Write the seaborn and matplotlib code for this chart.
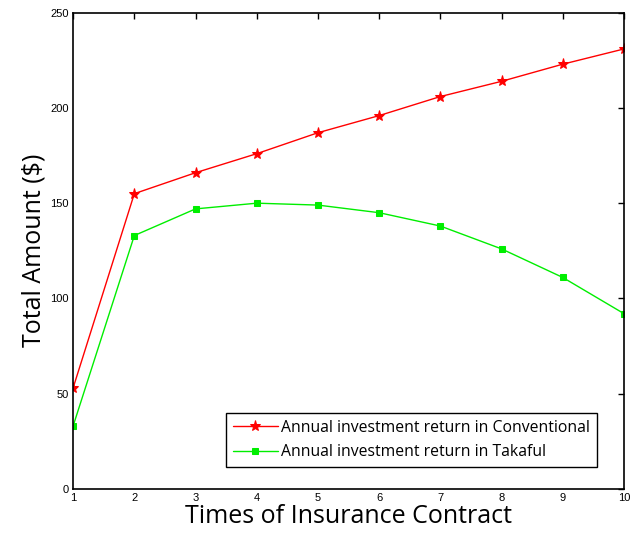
import pandas as pd
import numpy as np
import matplotlib
matplotlib.use("Agg")
import matplotlib.pyplot as plt
import seaborn as sns

# data
times = [1, 2, 3, 4, 5, 6, 7, 8, 9, 10]
conventional = [53, 155, 166, 176, 187, 196, 206, 214, 223, 231]
takaful = [33, 133, 147, 150, 149, 145, 138, 126, 111, 92]
label_conv = "Annual investment return in Conventional"
label_tak = "Annual investment return in Takaful"

df = pd.DataFrame({"Times": times, "Conventional": conventional, "Takaful": takaful})

sns.set_style("white")
plt.rcParams['font.family'] = ['Liberation Sans', 'DejaVu Sans']
plt.rcParams['text.color'] = 'black'
plt.rcParams['axes.labelcolor'] = 'black'
plt.rcParams['xtick.color'] = 'black'
plt.rcParams['ytick.color'] = 'black'

fig, ax = plt.subplots(figsize=(6.36, 5.33), dpi=100)
fig.subplots_adjust(left=0.115, right=0.981, top=0.976, bottom=0.083)

sns.lineplot(data=df, x="Times", y="Conventional", ax=ax, color="red", marker="*",
             markersize=8, markeredgecolor="red", linewidth=1, label=label_conv)
sns.lineplot(data=df, x="Times", y="Takaful", ax=ax, color="#00ee00", marker="s",
             markersize=5, markeredgecolor="#00ee00", linewidth=1, label=label_tak)

ax.set_xlim(1, 10)
ax.set_ylim(0, 250)
ax.set_xticks(times)
ax.set_yticks([0, 50, 100, 150, 200, 250])
ax.tick_params(direction="in", top=True, right=True, length=4, width=1, labelsize=8, pad=3)
for s in ax.spines.values():
    s.set_color("black")
    s.set_linewidth(1.2)

ax.set_xlabel("Times of Insurance Contract", fontsize=18, family=["Open Sans"], labelpad=1)
ax.set_ylabel("Total Amount ($)", fontsize=18, family=["Open Sans"], labelpad=3)

leg = ax.legend(loc="lower right", bbox_to_anchor=(0.96, 0.035), fancybox=False,
                edgecolor="black", framealpha=1, prop={"family": "Open Sans", "size": 11.3},
                handlelength=2.9, handletextpad=0.2, borderpad=0.45, labelspacing=0.55,
                borderaxespad=0.3)
leg.get_frame().set_linewidth(1.0)

fig.savefig("out.png", dpi=100)
